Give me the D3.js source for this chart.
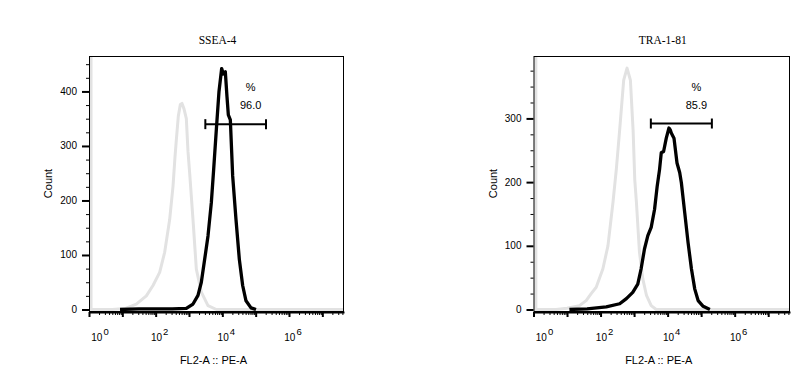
<!DOCTYPE html>
<html>
<head>
<meta charset="utf-8">
<script src="https://cdn.jsdelivr.net/npm/d3@7/dist/d3.min.js"></script>
<style>
  html, body { margin: 0; padding: 0; background: #fff; }
  svg { display: block; }
</style>
</head>
<body>
<svg id="chart" width="810" height="384"></svg>
<script>
// ---------------- DATA ----------------
const titles = ["SSEA-4", "TRA-1-81"];
const xTitle = "FL2-A :: PE-A";
const yTitle = "Count";
const xTickExponents = [0, 2, 4, 6];
const yTicksLeft = [0, 100, 200, 300, 400];
const yTicksRight = [0, 100, 200, 300];
const yMaxes = [465, 398];
const xMaxExponent = 7.65;
const percents = ["96.0", "85.9"];
const gateExponents = [[3.49, 5.31], [3.5, 5.32]];
const gateCounts = [340, 292];

// histogram points: [log10(FL2-A), count]
const ssea4Isotype = [[0.06, 3000], [0.06, 0], [0.7, 0], [1.1, 2], [1.42, 10], [1.72, 25], [1.92, 44], [2.12, 68], [2.27, 105], [2.42, 165], [2.52, 226], [2.58, 280], [2.62, 311], [2.68, 355], [2.74, 376], [2.79, 378], [2.85, 368], [2.92, 350], [2.97, 290], [3.02, 250], [3.12, 165], [3.22, 74], [3.37, 32], [3.57, 7], [3.82, 0], [7.65, 0]];
const ssea4Stain = [[0.93, 0], [1.5, 1], [2.5, 1], [2.92, 2], [3.12, 10], [3.27, 26], [3.37, 50], [3.47, 92], [3.57, 135], [3.67, 196], [3.74, 257], [3.82, 330], [3.9, 400], [3.98, 442], [4.03, 432], [4.09, 436], [4.14, 390], [4.18, 357], [4.24, 348], [4.31, 245], [4.41, 165], [4.51, 92], [4.61, 44], [4.71, 16], [4.86, 3], [5.01, 0]];
const tra181Isotype = [[0.07, 3000], [0.07, 0], [0.67, 0], [1.0, 2], [1.37, 6], [1.57, 14], [1.72, 25], [1.87, 35], [2.07, 64], [2.22, 100], [2.37, 168], [2.47, 220], [2.57, 282], [2.69, 360], [2.79, 379], [2.89, 360], [2.97, 282], [3.02, 204], [3.07, 168], [3.16, 90], [3.26, 48], [3.37, 22], [3.51, 6], [3.66, 0], [7.65, 0]];
const tra181Stain = [[1.07, 0], [1.6, 1], [2.17, 4], [2.57, 9], [2.77, 17], [2.96, 27], [3.11, 40], [3.21, 64], [3.31, 95], [3.41, 116], [3.51, 129], [3.61, 157], [3.69, 194], [3.76, 220], [3.81, 246], [3.88, 248], [3.96, 269], [4.04, 285], [4.08, 282], [4.11, 277], [4.19, 269], [4.28, 230], [4.36, 215], [4.41, 199], [4.51, 152], [4.61, 105], [4.71, 64], [4.81, 32], [4.91, 14], [5.06, 5], [5.26, 0]];

// ---------------- LAYOUT ----------------
const panels = [
  { left: 89, right: 344, yTicks: yTicksLeft, iso: ssea4Isotype, stain: ssea4Stain },
  { left: 533.5, right: 790, yTicks: yTicksRight, iso: tra181Isotype, stain: tra181Stain }
];
const plotTop = 56, plotBottom = 311;
const sans = "'Liberation Sans', Arial, sans-serif";
const serif = "'Liberation Serif', 'Times New Roman', serif";

const svg = d3.select("#chart");

panels.forEach((p, i) => {
  const g = svg.append("g");
  const x = d3.scaleLog().domain([1, Math.pow(10, xMaxExponent)]).range([p.left, p.right]);
  const y = d3.scaleLinear().domain([0, yMaxes[i]]).range([plotBottom - 1.5, plotTop]);

  const clipId = "clip" + i;
  svg.append("clipPath").attr("id", clipId)
    .append("rect").attr("x", p.left).attr("y", plotTop).attr("width", p.right - p.left).attr("height", plotBottom - plotTop);

  const line = d3.line()
    .x(d => x(Math.pow(10, d[0])))
    .y(d => y(d[1]))
    .curve(d3.curveLinear);

  const hg = g.append("g").attr("clip-path", `url(#${clipId})`);
  hg.append("path").datum(p.iso)
    .attr("d", line)
    .attr("fill", "none").attr("stroke", "#e2e2e2").attr("stroke-width", 3)
    .attr("stroke-linejoin", "round");
  hg.append("path").datum(p.stain)
    .attr("d", line)
    .attr("fill", "none").attr("stroke", "#000").attr("stroke-width", 3.3)
    .attr("stroke-linejoin", "round");

  // frame
  g.append("rect")
    .attr("x", p.left + 0.5).attr("y", plotTop + 0.5)
    .attr("width", p.right - p.left - 1).attr("height", plotBottom - plotTop)
    .attr("fill", "none").attr("stroke", "#000").attr("stroke-width", 1);

  // x axis
  const xTickVals = [];
  for (let e = 0; e <= 7; e++) {
    for (let m = 1; m <= 9; m++) {
      const v = m * Math.pow(10, e);
      if (v <= Math.pow(10, xMaxExponent)) xTickVals.push(v);
    }
  }
  const isMajor = d => Math.abs(Math.log10(d) - Math.round(Math.log10(d))) < 1e-9;
  const xAxis = g.append("g")
    .attr("transform", `translate(0,${plotBottom + 1})`)
    .call(d3.axisBottom(x).tickValues(xTickVals).tickSize(3).tickSizeOuter(0).tickFormat(""));
  xAxis.select(".domain").attr("stroke", "#000").attr("stroke-width", 2);
  xAxis.selectAll(".tick line")
    .attr("stroke", "#000")
    .attr("y2", d => (isMajor(d) ? 5 : 3))
    .attr("stroke-width", d => (isMajor(d) ? 2 : 1));

  // x tick labels 10^n
  xTickExponents.forEach(e => {
    const cx = x(Math.pow(10, e)) + (e === 0 ? 11 : 4);
    const t = g.append("text")
      .attr("x", cx).attr("y", plotBottom + 30)
      .attr("text-anchor", "middle")
      .attr("font-family", sans).attr("font-size", 10).attr("fill", "#000");
    t.append("tspan").text("10");
    t.append("tspan").attr("dx", 1).attr("dy", -6.5).attr("font-size", 9.5).text(String(e));
  });

  // y axis
  const yTickVals = d3.range(0, yMaxes[i], 25);
  const yAxis = g.append("g")
    .attr("transform", `translate(${p.left},0)`)
    .call(d3.axisLeft(y).tickValues(yTickVals).tickSize(3).tickSizeOuter(0).tickFormat(""));
  yAxis.select(".domain").remove();
  yAxis.selectAll(".tick line")
    .attr("stroke", "#000")
    .attr("x2", d => (d % 100 === 0 ? -7 : -3))
    .attr("stroke-width", d => (d % 100 === 0 ? 2 : 1));

  p.yTicks.forEach(v => {
    g.append("text")
      .attr("x", p.left - 12).attr("y", y(v) + 3.5)
      .attr("text-anchor", "end")
      .attr("font-family", sans).attr("font-size", 10).attr("fill", "#000")
      .text(v);
  });

  // titles
  const cx = (p.left + p.right) / 2;
  g.append("text")
    .attr("x", cx + 1).attr("y", 44)
    .attr("text-anchor", "middle")
    .attr("font-family", serif).attr("font-size", 11.5).attr("fill", "#000")
    .text(titles[i]);
  g.append("text")
    .attr("x", cx - 3).attr("y", 364)
    .attr("text-anchor", "middle")
    .attr("font-family", sans).attr("font-size", 11).attr("fill", "#000")
    .text(xTitle);
  g.append("text")
    .attr("transform", `translate(${p.left - 37},${(plotTop + plotBottom) / 2}) rotate(-90)`)
    .attr("text-anchor", "middle")
    .attr("font-family", sans).attr("font-size", 11).attr("fill", "#000")
    .text(yTitle);

  // gate
  const gx0 = x(Math.pow(10, gateExponents[i][0]));
  const gx1 = x(Math.pow(10, gateExponents[i][1]));
  const gy = y(gateCounts[i]);
  g.append("line").attr("x1", gx0).attr("x2", gx1).attr("y1", gy).attr("y2", gy)
    .attr("stroke", "#000").attr("stroke-width", 2);
  [gx0, gx1].forEach(gx => {
    g.append("line").attr("x1", gx).attr("x2", gx).attr("y1", gy - 5).attr("y2", gy + 5)
      .attr("stroke", "#000").attr("stroke-width", 2);
  });
  const lx = (gx0 + gx1) / 2 + 15;
  g.append("text").attr("x", lx).attr("y", gy - 33)
    .attr("text-anchor", "middle").attr("font-family", sans).attr("font-size", 11).attr("fill", "#000")
    .text("%");
  g.append("text").attr("x", lx).attr("y", gy - 15)
    .attr("text-anchor", "middle").attr("font-family", sans).attr("font-size", 11).attr("fill", "#000")
    .text(percents[i]);
});
</script>
</body>
</html>
